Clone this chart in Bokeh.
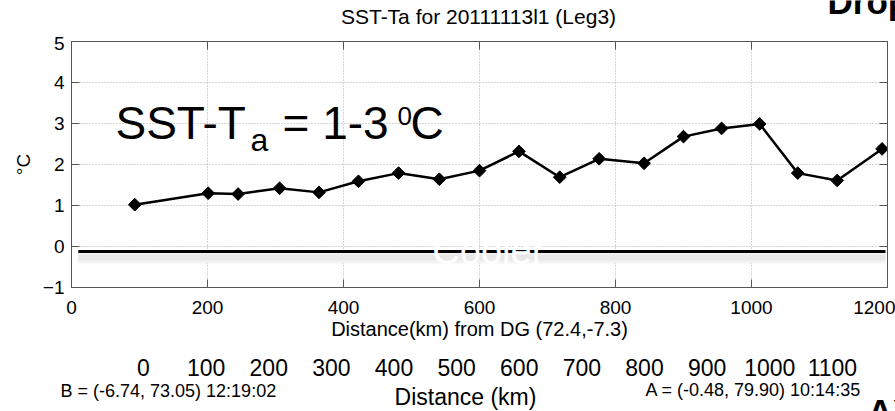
import math
from bokeh.plotting import figure
from bokeh.layouts import column
from bokeh.models import Range1d, LinearAxis, FixedTicker, Label
from bokeh.embed import file_html
from bokeh.resources import INLINE

# ---- data ----
distance_km = [93, 201, 245, 306, 364, 422, 481, 541, 600, 658, 718, 776,
               842, 900, 956, 1012, 1068, 1126, 1192]
sst_minus_ta = [1.02, 1.30, 1.28, 1.42, 1.32, 1.59, 1.79, 1.64, 1.85, 2.32,
                1.69, 2.14, 2.03, 2.68, 2.88, 2.99, 1.79, 1.61, 2.38]
x_ticks = [0, 200, 400, 600, 800, 1000, 1200]
y_ticks = [-1, 0, 1, 2, 3, 4, 5]
dist2_ticks = [0, 100, 200, 300, 400, 500, 600, 700, 800, 900, 1000, 1100]
cooler_x = [10, 1197]
cooler_y = [-0.12, -0.12]
shadow_y = [-0.27, -0.27]

FONT = "Liberation Sans"
AX_COL = "#555555"
W = 895
HEAD_H, MAIN_H, FOOT_H = 36, 346, 29


def no_align(fig):
    try:
        fig.frame_align = False
    except Exception:
        pass


def text_strip(h):
    f = figure(width=W, height=h, x_range=Range1d(0, W), y_range=Range1d(h, 0),
               x_axis_type=None, y_axis_type=None, output_backend="svg",
               toolbar_location=None, min_border=0, min_border_left=0,
               min_border_right=0, min_border_top=0, min_border_bottom=0)
    f.title = None
    f.outline_line_color = None
    f.background_fill_color = "white"
    f.border_fill_color = "white"
    no_align(f)
    return f


def lab(fig, x, y, text, size, bold=False, align="left", color="black"):
    # y is the vertical centre of the text box
    fig.add_layout(Label(x=x, y=y, text=text, text_font=FONT, text_font_size=f"{size}px",
                         text_font_style="bold" if bold else "normal", text_align=align,
                         text_baseline="middle", text_color=color))


# ---------------- header ----------------
head = text_strip(HEAD_H)
lab(head, 478, 16.1, "SST-Ta for 20111113l1 (Leg3)", 21, align="center")
lab(head, 827, 0.9, "Drop", 35, bold=True)

# ---------------- main plot ----------------
p = figure(width=W, height=MAIN_H, x_range=Range1d(0, 1200), y_range=Range1d(-1, 5),
           output_backend="svg", toolbar_location=None,
           min_border_left=71, min_border_right=8, min_border_top=5, min_border_bottom=95)
p.title = None
no_align(p)
p.outline_line_color = AX_COL
p.background_fill_color = "white"
p.border_fill_color = "white"

xa = p.xaxis[0]
xa.ticker = FixedTicker(ticks=x_ticks)
xa.major_tick_in = 8
xa.major_tick_out = 0
xa.minor_tick_line_color = None
xa.axis_line_color = AX_COL
xa.major_tick_line_color = AX_COL
xa.major_label_text_font = FONT
xa.major_label_text_font_size = "19px"
xa.major_label_text_color = "black"
xa.major_label_standoff = 13
xa.axis_label = "Distance(km) from DG (72.4,-7.3)"
xa.axis_label_text_font = FONT
xa.axis_label_text_font_style = "normal"
xa.axis_label_text_font_size = "20px"
xa.axis_label_text_color = "black"
xa.axis_label_standoff = 1

ya = p.yaxis[0]
ya.ticker = FixedTicker(ticks=y_ticks)
ya.major_tick_in = 8
ya.major_tick_out = 0
ya.minor_tick_line_color = None
ya.axis_line_color = AX_COL
ya.major_tick_line_color = AX_COL
ya.major_label_text_font = FONT
ya.major_label_text_font_size = "19px"
ya.major_label_text_color = "black"
ya.major_label_standoff = 7
ya.axis_label = "°C"
ya.axis_label_text_font = FONT
ya.axis_label_text_font_style = "normal"
ya.axis_label_text_font_size = "19px"
ya.axis_label_text_color = "black"
ya.axis_label_standoff = 6

for loc, ticks in (("above", x_ticks), ("right", y_ticks)):
    ax = LinearAxis(ticker=FixedTicker(ticks=ticks), major_tick_in=8, major_tick_out=0,
                    minor_tick_line_color=None, axis_line_color=AX_COL,
                    major_tick_line_color=AX_COL, major_label_text_font_size="0px",
                    major_label_standoff=0)
    p.add_layout(ax, loc)

p.extra_x_ranges = {"d2": Range1d(-115, 1188)}
ax2 = LinearAxis(x_range_name="d2", ticker=FixedTicker(ticks=dist2_ticks),
                 axis_line_color=None, major_tick_line_color=None, minor_tick_line_color=None,
                 major_label_text_font=FONT, major_label_text_font_size="23px",
                 major_label_text_color="black", major_label_standoff=10)
p.add_layout(ax2, "below")

p.xgrid.ticker = FixedTicker(ticks=x_ticks)
p.ygrid.ticker = FixedTicker(ticks=y_ticks)
for g in (p.xgrid, p.ygrid):
    g.grid_line_color = "#aaaaaa"
    g.grid_line_dash = "1 2"
    g.grid_line_width = 1

# "cooler" bar with its soft shadow
p.line(cooler_x, shadow_y, line_color="#f3f3f3", line_width=12)
p.line(cooler_x, shadow_y, line_color="#e8e8e8", line_width=6)
p.line(cooler_x, cooler_y, line_color="black", line_width=3)

# data
p.line(distance_km, sst_minus_ta, line_color="black", line_width=2.5)
p.scatter(distance_km, sst_minus_ta, marker="square", angle=math.pi / 4, size=9,
          fill_color="black", line_color="black")

lab(p, 64.7, 3.022, "SST-T", 46)
lab(p, 263.2, 2.588, "a", 32)
lab(p, 310.3, 3.022, "= 1-3", 46)
lab(p, 479.4, 3.195, "0", 26)
lab(p, 498.5, 3.022, "C", 46)
lab(p, 613, -0.117, "Cooler", 38, align="center", color="white")

# ---------------- footer ----------------
foot = text_strip(FOOT_H)
lab(foot, 60, 8.1, "B = (-6.74, 73.05) 12:19:02", 18)
lab(foot, 645, 7.1, "A = (-0.48, 79.90) 10:14:35", 18)
lab(foot, 465, 14.5, "Distance (km)", 23, align="center")
lab(foot, 867, 28.9, "AX", 35, bold=True)

layout = column(head, p, foot, spacing=0)
open("out.html", "w").write(file_html(layout, INLINE))
